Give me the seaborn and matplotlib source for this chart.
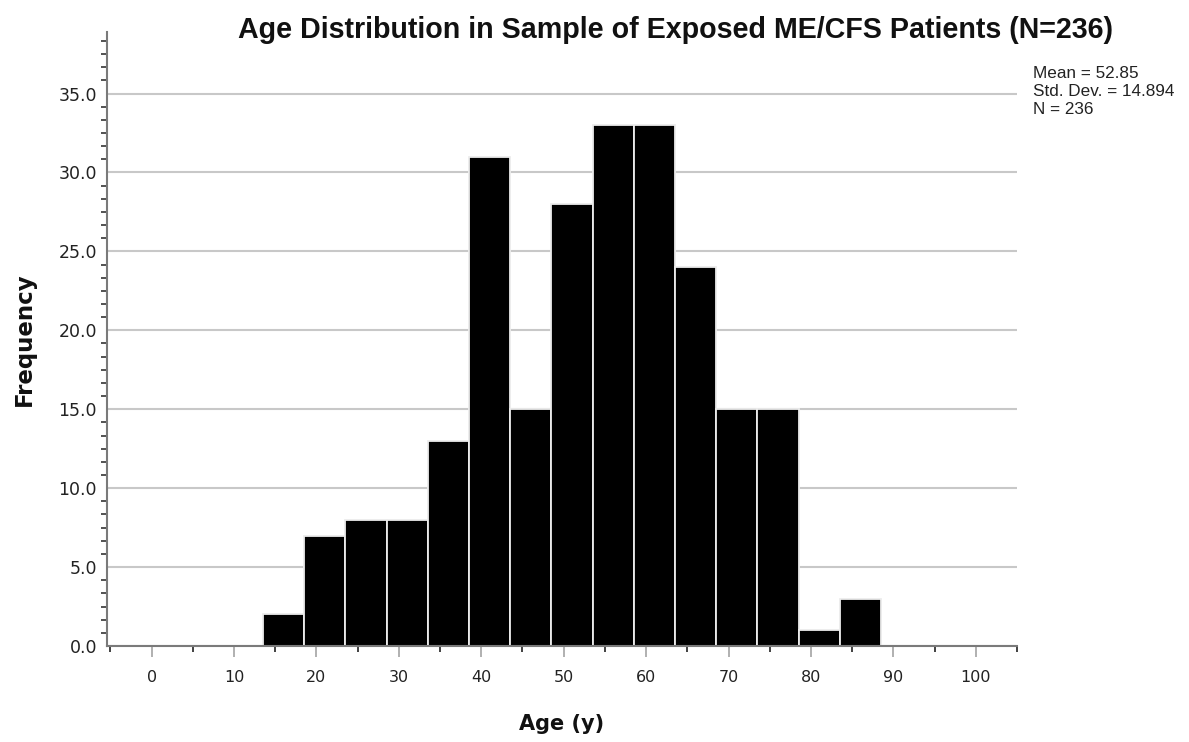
import matplotlib
matplotlib.use("Agg")
import matplotlib.pyplot as plt
from matplotlib.ticker import MultipleLocator, FormatStrFormatter
import seaborn as sns
import numpy as np

# ---- data ----
bin_edges = [13.5, 18.5, 23.5, 28.5, 33.5, 38.5, 43.5, 48.5, 53.5, 58.5,
             63.5, 68.5, 73.5, 78.5, 83.5, 88.5]
bin_centers = [16, 21, 26, 31, 36, 41, 46, 51, 56, 61, 66, 71, 76, 81, 86]
frequencies = [2, 7, 8, 8, 13, 31, 15, 28, 33, 33, 24, 15, 15, 1, 3]
x_major = [0, 10, 20, 30, 40, 50, 60, 70, 80, 90, 100]
stats_lines = ["Mean = 52.85", "Std. Dev. = 14.894", "N = 236"]
title = "Age Distribution in Sample of Exposed ME/CFS Patients (N=236)"

sns.set_theme(style="white")
plt.rcParams['font.family'] = ['DejaVu Sans']

fig = plt.figure(figsize=(11.89, 7.42), dpi=100)
ax = fig.add_axes([106.7/1189, 1-646/742, (1017-106.7)/1189, (646-32)/742])

ax.yaxis.grid(True, color="#c8c8c8", linewidth=1.5, zorder=0)
ax.set_axisbelow(True)

sns.histplot(x=bin_centers, weights=frequencies, bins=bin_edges, ax=ax,
             color="black", alpha=1.0, edgecolor="#ececec", linewidth=1.3,
             zorder=2)

ax.set_xlim(-5.45, 105)
ax.set_ylim(0, 38.9)

ax.set_xticks(x_major)
ax.set_xticklabels([str(v) for v in x_major])
ax.xaxis.set_minor_locator(MultipleLocator(10, offset=5))
ax.yaxis.set_major_locator(MultipleLocator(5))
ax.yaxis.set_major_formatter(FormatStrFormatter("%.1f"))
ax.yaxis.set_minor_locator(MultipleLocator(5/6))

ax.tick_params(axis="x", which="major", direction="out", length=8, width=1.3,
               color="#aaaaaa", labelsize=11.5, labelcolor="#222222", pad=9,
               bottom=True)
ax.tick_params(axis="x", which="minor", direction="out", length=4, width=1.3,
               color="#333333", bottom=True)
ax.tick_params(axis="y", which="major", direction="out", length=0,
               labelsize=12.5, labelcolor="#222222", pad=7, left=True)
ax.tick_params(axis="y", which="minor", direction="out", length=4, width=1.3,
               color="#444444", left=True)

for side in ("top", "right"):
    ax.spines[side].set_visible(False)
for side in ("left", "bottom"):
    ax.spines[side].set_color("#7a7a7a")
    ax.spines[side].set_linewidth(1.5)

ax.set_xlabel("Age (y)", fontsize=15, fontweight="bold", labelpad=21, color="#111111")
ax.set_ylabel("Frequency", fontsize=16.5, fontweight="bold", labelpad=16, color="#111111")

fig.text(675/1189, 1-30/742, title, ha="center", va="center",
         fontsize=20.6, fontweight="bold", family=["Liberation Sans", "DejaVu Sans"],
         color="#111111")

for i, line in enumerate(stats_lines):
    fig.text(1033/1189, 1-(73+18.5*i)/742, line, ha="left", va="center",
             fontsize=12.3, family=["Liberation Sans", "DejaVu Sans"], color="#222222")

fig.savefig("out.png", dpi=100)
